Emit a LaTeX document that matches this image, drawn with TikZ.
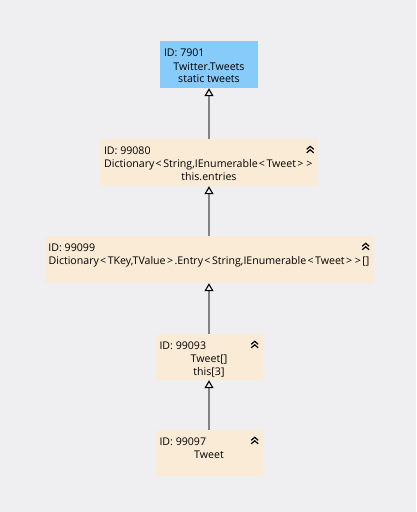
\documentclass[tikz,border=0pt]{standalone}
\usepackage{fontspec}
\setmainfont{Open Sans}
\usetikzlibrary{arrows.meta}
\definecolor{bgcol}{HTML}{EFEFF2}
\definecolor{rootcol}{HTML}{87CBFA}
\definecolor{objcol}{HTML}{FAEBD7}
\definecolor{linkcol}{HTML}{828282}
\newcommand\lang{\kern1.2pt<\kern1.6pt}
\newcommand\rang{\kern1.4pt>\kern1.4pt}
\newcommand\collapsemark[1]{%
  \begin{scope}[shift={(#1.north east)}]
    \draw[line width=1.2pt] (-11.5,10.5) -- (-8,7.5) -- (-4.5,10.5);
    \draw[line width=1.2pt] (-11.5,14) -- (-8,11) -- (-4.5,14);
  \end{scope}}
\begin{document}
\begin{tikzpicture}[x=1pt,y=-1pt,
  txt/.style={inner sep=0pt,font=\fontsize{10.6}{12}\selectfont},
  idtxt/.style={txt,anchor=base west},
  bodytxt/.style={txt,anchor=base},
  objbox/.style={fill=objcol,inner sep=0pt,minimum height=47pt},
  rootbox/.style={objbox,fill=rootcol},
  link/.style={draw=linkcol,line width=2pt,
    -{Triangle[open,length=8pt,width=9pt,line width=1.1pt,color=black]}}]
  \fill[bgcol] (0,0) rectangle (416,512);
  \useasboundingbox (0,0) rectangle (416,512);
  % boxes
  \node[rootbox,minimum width=98pt] (root) at (209,64.5) {};
  \node[objbox,minimum width=218pt] (entries) at (209,162.5) {};
  \node[objbox,minimum width=329pt] (entryarr) at (209,259.5) {};
  \node[objbox,minimum width=107pt,minimum height=46pt] (tweetarr) at (209,357) {};
  \node[objbox,minimum width=107pt,minimum height=46pt] (tweet) at (209,453) {};
  % texts
  \node[idtxt] (rootid) at ([xshift=4pt,yshift=-16pt]root.north west) {ID: 7901};
  \node[bodytxt] (rootl1) at ([yshift=-29.5pt]root.north) {Twitter.Tweets};
  \node[bodytxt] (rootl2) at ([yshift=-41.5pt]root.north) {static tweets};
  \node[idtxt] (entriesid) at ([xshift=4pt,yshift=-15.5pt]entries.north west) {ID: 99080};
  \node[bodytxt] (entriesl1) at ([yshift=-28.5pt]entries.north) {Dictionary\lang String,IEnumerable\lang Tweet\rang\rang};
  \node[bodytxt] (entriesl2) at ([yshift=-41.5pt]entries.north) {this.entries};
  \node[idtxt] (entryarrid) at ([xshift=4pt,yshift=-15.5pt]entryarr.north west) {ID: 99099};
  \node[bodytxt] (entryarrl1) at ([yshift=-28.5pt]entryarr.north) {Dictionary\lang TKey,TValue\rang.Entry\lang String,IEnumerable\lang Tweet\rang\rang[]};
  \node[idtxt] (tweetarrid) at ([xshift=4pt,yshift=-15.5pt]tweetarr.north west) {ID: 99093};
  \node[bodytxt] (tweetarrl1) at ([yshift=-28.5pt]tweetarr.north) {Tweet[]};
  \node[bodytxt] (tweetarrl2) at ([yshift=-41.5pt]tweetarr.north) {this[3]};
  \node[idtxt] (tweetid) at ([xshift=4pt,yshift=-15.5pt]tweet.north west) {ID: 99097};
  \node[bodytxt] (tweetl1) at ([yshift=-28.5pt]tweet.north) {Tweet};
  % collapse marks
  \collapsemark{entries}
  \collapsemark{entryarr}
  \collapsemark{tweetarr}
  \collapsemark{tweet}
  % references
  \draw[link] (entries.north) -- (root.south);
  \draw[link] (entryarr.north) -- (entries.south);
  \draw[link] (tweetarr.north) -- (entryarr.south);
  \draw[link] (tweet.north) -- (tweetarr.south);
\end{tikzpicture}
\end{document}
